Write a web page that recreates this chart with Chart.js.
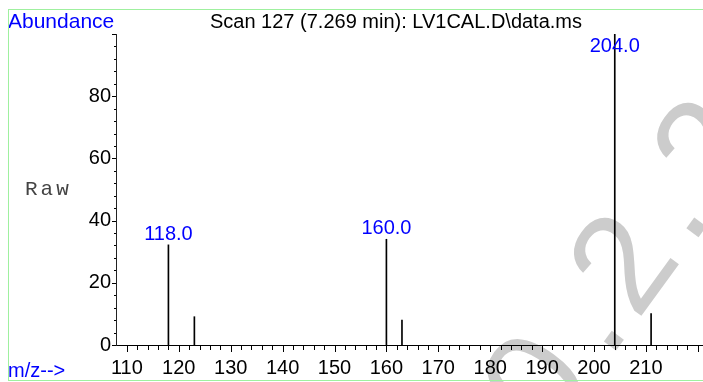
<!DOCTYPE html>
<html>
<head>
<meta charset="utf-8">
<script src="https://cdn.jsdelivr.net/npm/chart.js@4.4.1/dist/chart.umd.min.js"></script>
<style>
  html, body { margin: 0; padding: 0; background: #fff; }
  #wrap { width: 703px; height: 382px; position: relative; }
</style>
</head>
<body>
<div id="wrap"><canvas id="spec" width="703" height="382"></canvas></div>
<script>
// Данные спектра (m/z и интенсивность, % от базового пика)
const mzValues = [118, 123, 160, 163, 204, 211];
const abundance = [32.2, 9.1, 34.0, 8.0, 100, 10.1];
// Подписанные пики
const labelMz = [118, 160, 204];
const labelText = ['118.0', '160.0', '204.0'];
// Оси
const xMin = 107.9, xMax = 221;
const yMin = 0, yMax = 100;
const xMajorTicks = [110, 120, 130, 140, 150, 160, 170, 180, 190, 200, 210, 220];
const yMajorTicks = [0, 20, 40, 60, 80];

const FONT = '"Liberation Sans", Arial, Helvetica, sans-serif';

// Рамка, водяной знак и подписи
const decorPlugin = {
    id: 'decor',
    beforeDraw(chart) {
        const ctx = chart.ctx;
        ctx.save();
        // водяной знак
        ctx.fillStyle = '#cccccc';
        ctx.font = '140px ' + FONT;
        ctx.translate(616, 342);
        ctx.rotate(-54 * Math.PI / 180);
        ctx.textAlign = 'center';
        ctx.textBaseline = 'alphabetic';
        const chars = ['0', '.', '2', '.', '2'];
        const offs = [-80, 0, 68, 140, 210];
        chars.forEach((c, i) => ctx.fillText(c, offs[i], 5));
        ctx.restore();
    },
    afterDraw(chart) {
        const ctx = chart.ctx;
        const xs = chart.scales.x, ys = chart.scales.y;
        ctx.save();
        // засечки оси X
        ctx.strokeStyle = '#000';
        ctx.lineWidth = 1;
        for (let v = 110; v <= xMax; v += 2) {
            const px = Math.round(xs.getPixelForValue(v)) + 0.5;
            const len = v % 10 === 0 ? 7 : 5;
            ctx.beginPath();
            ctx.moveTo(px, ys.bottom);
            ctx.lineTo(px, ys.bottom + len);
            ctx.stroke();
        }
        // засечки оси Y
        for (let v = yMin; v <= yMax; v += 4) {
            const py = Math.round(ys.getPixelForValue(v)) + 0.5;
            const len = v % 20 === 0 ? 4 : 2;
            ctx.beginPath();
            ctx.moveTo(xs.left - len, py);
            ctx.lineTo(xs.left, py);
            ctx.stroke();
        }
        // подписи пиков
        ctx.fillStyle = '#0000ff';
        ctx.font = '20px ' + FONT;
        ctx.textAlign = 'center';
        ctx.textBaseline = 'alphabetic';
        labelMz.forEach((m, i) => {
            const k = mzValues.indexOf(m);
            const px = xs.getPixelForValue(m);
            const py = Math.max(ys.getPixelForValue(abundance[k]) - 5, ys.top + 18);
            ctx.fillText(labelText[i], px, py);
        });
        // тексты
        ctx.textAlign = 'left';
        ctx.font = '21px ' + FONT;
        ctx.fillText('Abundance', 8, 28);
        ctx.font = '20px ' + FONT;
        ctx.fillText('m/z-->', 8, 377);
        ctx.fillStyle = '#000';
        ctx.textAlign = 'center';
        ctx.fillText('Scan 127 (7.269 min): LV1CAL.D\\data.ms', 396, 28);
        ctx.textAlign = 'left';
        ctx.font = '21px "Liberation Mono", "Courier New", monospace';
        ctx.letterSpacing = '3px';
        ctx.fillStyle = '#444';
        ctx.fillText('Raw', 25, 195);
        ctx.letterSpacing = '0px';
        // рамка
        ctx.strokeStyle = '#9ff09f';
        ctx.strokeRect(8.5, 9.5, 710, 371);
        ctx.restore();
    }
};

function initChart() {
    const ctx = document.getElementById('spec').getContext('2d');
    new Chart(ctx, {
        type: 'bar',
        data: {
            datasets: [{
                data: mzValues.map((m, i) => ({ x: m, y: abundance[i] })),
                backgroundColor: '#000',
                barThickness: 1,
                borderWidth: 0
            }]
        },
        options: {
            responsive: false,
            animation: false,
            layout: { padding: { top: 34, right: 0, left: 0, bottom: 0 } },
            plugins: { legend: { display: false }, tooltip: { enabled: false } },
            scales: {
                x: {
                    type: 'linear',
                    offset: false,
                    min: xMin,
                    max: xMax,
                    afterFit: s => { s.height = 37; s.paddingLeft = 0; s.paddingRight = 0; },
                    afterBuildTicks: s => { s.ticks = xMajorTicks.map(v => ({ value: v })); },
                    grid: { display: false, drawTicks: false, offset: false },
                    border: { display: true, color: '#000', width: 1 },
                    ticks: {
                        padding: 11,
                        color: '#000',
                        font: { family: FONT, size: 20 },
                        maxRotation: 0,
                        autoSkip: false,
                        callback: v => (v <= 210 ? String(v) : '')
                    }
                },
                y: {
                    min: yMin,
                    max: yMax,
                    afterFit: s => { s.width = 116; s.paddingTop = 0; s.paddingBottom = 0; },
                    afterBuildTicks: s => { s.ticks = yMajorTicks.map(v => ({ value: v })); },
                    grid: { display: false, drawTicks: false },
                    border: { display: true, color: '#222', width: 1 },
                    ticks: {
                        padding: 5,
                        color: '#000',
                        font: { family: FONT, size: 20 },
                        autoSkip: false
                    }
                }
            }
        },
        plugins: [decorPlugin]
    });
}

document.addEventListener('DOMContentLoaded', initChart);
</script>
</body>
</html>
